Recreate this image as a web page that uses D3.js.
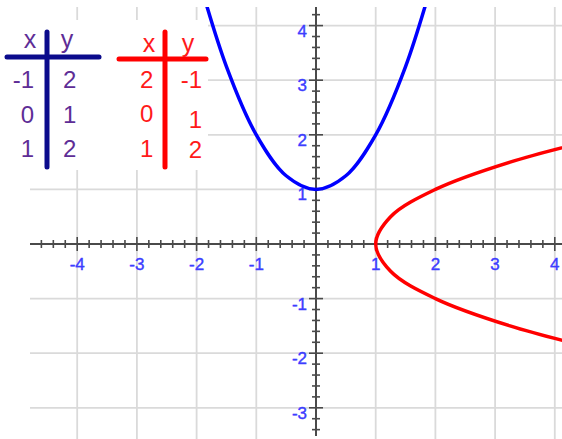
<!DOCTYPE html>
<html lang="en">
  <head>
    <meta charset="UTF-8" />
    <title>Parabola tables</title>
    <script src="https://d3js.org/d3.v7.min.js"></script>
    <style>
      body { margin: 0; background: #fff; }
      text { font-family: "Liberation Sans", Arial, sans-serif; }
    </style>
  </head>
  <body>
    <div id="chart"></div>
    <script>
      // axis ticks
      var xTicks = [-4, -3, -2, -1, 1, 2, 3, 4];
      var yTicks = [-3, -2, -1, 1, 2, 3, 4];

      // tables
      var blueX = ["-1", "0", "1"];
      var blueY = ["2", "1", "2"];
      var redX = ["2", "0", "1"];
      var redY = ["-1", "1", "2"];

      // curve points [x, y]
      var blueCurve = [
        [-2, 5], [-1.5, 3.25], [-1, 2], [-0.5, 1.25], [0, 1],
        [0.5, 1.25], [1, 2], [1.5, 3.25], [2, 5]
      ];
      var redCurve = [
        [5, -2], [3.25, -1.5], [2, -1], [1.25, -0.5], [1, 0],
        [1.25, 0.5], [2, 1], [3.25, 1.5], [5, 2]
      ];

      var width = 562, height = 439;
      var plotLeft = 30, plotTop = 7;

      var svg = d3.select("#chart").append("svg")
        .attr("width", width)
        .attr("height", height);

      var x = d3.scaleLinear().domain([0, 1]).range([316, 375.7]);
      var y = d3.scaleLinear().domain([0, 1]).range([244, 189.4]);

      svg.append("defs").append("clipPath").attr("id", "plot")
        .append("rect")
        .attr("x", plotLeft).attr("y", plotTop)
        .attr("width", width - plotLeft).attr("height", height - plotTop);

      // grid
      var grid = svg.append("g").attr("stroke", "#dadada").attr("stroke-width", 1.8);
      grid.selectAll(".gv").data(xTicks).enter().append("line")
        .attr("x1", function (d) { return x(d); })
        .attr("x2", function (d) { return x(d); })
        .attr("y1", plotTop).attr("y2", height);
      grid.selectAll(".gh").data(yTicks).enter().append("line")
        .attr("y1", function (d) { return y(d); })
        .attr("y2", function (d) { return y(d); })
        .attr("x1", plotLeft).attr("x2", width);

      // white box behind the tables
      svg.append("rect")
        .attr("x", 0).attr("y", 20)
        .attr("width", 208).attr("height", 150)
        .attr("fill", "#fff");

      // axes
      var axisColor = "#4a4a4a";
      var xMinor = d3.range(-23, 21).map(function (i) { return i / 5; });
      var yMinor = d3.range(-17, 22).map(function (i) { return i / 5; });
      function isMajor(d) { return Math.abs(d - Math.round(d)) < 1e-6; }

      svg.append("line")
        .attr("x1", plotLeft).attr("x2", width)
        .attr("y1", y(0)).attr("y2", y(0))
        .attr("stroke", axisColor).attr("stroke-width", 2);
      svg.append("line")
        .attr("x1", x(0)).attr("x2", x(0))
        .attr("y1", plotTop).attr("y2", 436)
        .attr("stroke", axisColor).attr("stroke-width", 2);

      svg.append("g").selectAll("line").data(xMinor).enter().append("line")
        .attr("x1", function (d) { return x(d); })
        .attr("x2", function (d) { return x(d); })
        .attr("y1", function (d) { return y(0) - (isMajor(d) ? 7 : 4); })
        .attr("y2", function (d) { return y(0) + (isMajor(d) ? 7 : 4); })
        .attr("stroke", axisColor).attr("stroke-width", 1.6);
      svg.append("g").selectAll("line").data(yMinor).enter().append("line")
        .attr("y1", function (d) { return y(d); })
        .attr("y2", function (d) { return y(d); })
        .attr("x1", function (d) { return x(0) - (isMajor(d) ? 7 : 4); })
        .attr("x2", function (d) { return x(0) + (isMajor(d) ? 7 : 4); })
        .attr("stroke", axisColor).attr("stroke-width", 1.6);

      var labelColor = "#3d3dff";
      svg.append("g").selectAll("text").data(xTicks).enter().append("text")
        .attr("x", function (d) { return x(d); })
        .attr("y", y(0) + 26)
        .attr("text-anchor", "middle")
        .attr("fill", labelColor)
        .attr("stroke", labelColor).attr("stroke-width", 0.4)
        .style("font-size", "17px")
        .text(function (d) { return d; });
      svg.append("g").selectAll("text").data(yTicks).enter().append("text")
        .attr("x", x(0) - 9)
        .attr("y", function (d) { return y(d) + 11; })
        .attr("text-anchor", "end")
        .attr("fill", labelColor)
        .attr("stroke", labelColor).attr("stroke-width", 0.4)
        .style("font-size", "17px")
        .text(function (d) { return d; });

      // tables
      var rows = [88, 123, 157];
      function drawTable(opts) {
        var g = svg.append("g");
        g.append("line")
          .attr("x1", opts.h[0]).attr("x2", opts.h[1])
          .attr("y1", opts.hy).attr("y2", opts.hy)
          .attr("stroke", opts.lineColor).attr("stroke-width", 5)
          .attr("stroke-linecap", "round");
        g.append("line")
          .attr("x1", opts.vx).attr("x2", opts.vx)
          .attr("y1", 32).attr("y2", 167)
          .attr("stroke", opts.lineColor).attr("stroke-width", 5)
          .attr("stroke-linecap", "round");
        g.append("text").attr("x", opts.hx[0]).attr("y", opts.headY)
          .attr("text-anchor", "middle").attr("fill", opts.textColor)
          .style("font-size", "25px").text("x");
        g.append("text").attr("x", opts.hx[1]).attr("y", opts.headY)
          .attr("text-anchor", "middle").attr("fill", opts.textColor)
          .style("font-size", "25px").text("y");
        g.selectAll(".cx").data(opts.xs).enter().append("text")
          .attr("x", opts.colX).attr("y", function (d, i) { return rows[i] + opts.dyX[i]; })
          .attr("text-anchor", opts.anchor[0]).attr("fill", opts.textColor)
          .style("font-size", "24px").text(function (d) { return d; });
        g.selectAll(".cy").data(opts.ys).enter().append("text")
          .attr("x", opts.colY).attr("y", function (d, i) { return rows[i] + opts.dyY[i]; })
          .attr("text-anchor", opts.anchor[1]).attr("fill", opts.textColor)
          .style("font-size", "24px").text(function (d) { return d; });
      }

      drawTable({
        xs: blueX, ys: blueY,
        lineColor: "#0b0b8c", textColor: "#5e2d96",
        h: [7, 99], hy: 57, vx: 47,
        hx: [30, 67], headY: 48,
        colX: 34, colY: 63, anchor: ["end", "start"],
        dyX: [0, 0, 0], dyY: [0, 0, 0]
      });
      drawTable({
        xs: redX, ys: redY,
        lineColor: "#ff0000", textColor: "#ff1a1a",
        h: [119, 206], hy: 59, vx: 165,
        hx: [149, 188], headY: 52,
        colX: 140, colY: 202, anchor: ["start", "end"],
        dyX: [0, -1, 0], dyY: [0, 5, 1]
      });

      // curves
      var line = d3.line()
        .x(function (d) { return x(d[0]); })
        .y(function (d) { return y(d[1]); })
        .curve(d3.curveCatmullRom.alpha(0.5));

      var curves = svg.append("g").attr("clip-path", "url(#plot)");
      curves.append("path").datum(blueCurve)
        .attr("fill", "none").attr("stroke", "#0000ff")
        .attr("stroke-width", 3.5).attr("d", line);
      curves.append("path").datum(redCurve)
        .attr("fill", "none").attr("stroke", "#ff0000")
        .attr("stroke-width", 3.5).attr("d", line);
    </script>
  </body>
</html>
